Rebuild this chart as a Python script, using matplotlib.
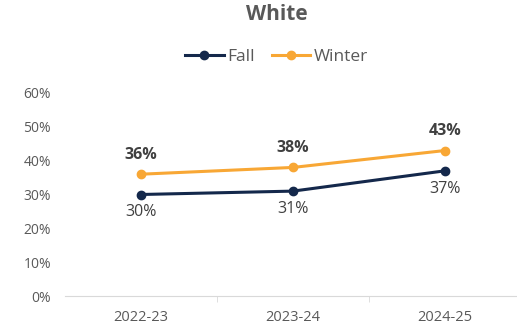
import matplotlib.pyplot as plt
from matplotlib.ticker import FuncFormatter

plt.rcParams['font.family'] = ['Open Sans', 'DejaVu Sans']

years = ['2022-23', '2023-24', '2024-25']
fall = [30, 31, 37]
winter = [36, 38, 43]

navy = '#14284b'
gold = '#f8a735'
text_gray = '#595959'
label_gray = '#404040'

fig = plt.figure(figsize=(5.17, 3.24), dpi=100)
ax = fig.add_axes([65 / 517, 28 / 324, 452 / 517, 203 / 324])

x = list(range(len(years)))
ax.plot(x, fall, color=navy, lw=2.2, marker='o', ms=6, label='Fall')
ax.plot(x, winter, color=gold, lw=2.2, marker='o', ms=6, label='Winter')

for i in x:
    ax.annotate(f'{winter[i]}%', (i, winter[i]), xytext=(0, 8), textcoords='offset points',
                ha='center', va='bottom', fontsize=11.5, fontweight='bold', color=label_gray)
    ax.annotate(f'{fall[i]}%', (i, fall[i]), xytext=(0, -7), textcoords='offset points',
                ha='center', va='top', fontsize=11.5, color=label_gray)

ax.set_xlim(-0.5, 2.5 - 4 / 152)
ax.set_ylim(0, 60)
ax.set_yticks(range(0, 61, 10))
ax.yaxis.set_major_formatter(FuncFormatter(lambda v, p: f'{v:.0f}%'))
ax.set_xticks(x)
ax.set_xticklabels(years)
ax.set_xticks([0.5, 1.5], minor=True)

for side in ['top', 'right', 'left']:
    ax.spines[side].set_visible(False)
ax.spines['bottom'].set_color('#d9d9d9')
ax.tick_params(axis='y', length=0, pad=10, labelsize=10, labelcolor=text_gray)
ax.tick_params(axis='x', which='major', length=0, pad=10, labelsize=10.5, labelcolor=text_gray)
ax.tick_params(axis='x', which='minor', length=4, color='#d9d9d9', direction='out')

fig.text(0.535, 0.955, 'White', ha='center', va='center', fontsize=15,
         fontweight='bold', color=text_gray)
fig.legend(loc='center', bbox_to_anchor=(0.535, 0.823), ncol=2, frameon=False,
           fontsize=12.5, labelcolor=text_gray, handlelength=2.2, handletextpad=0.2,
           columnspacing=1.0)

fig.savefig('out.png', dpi=100)
